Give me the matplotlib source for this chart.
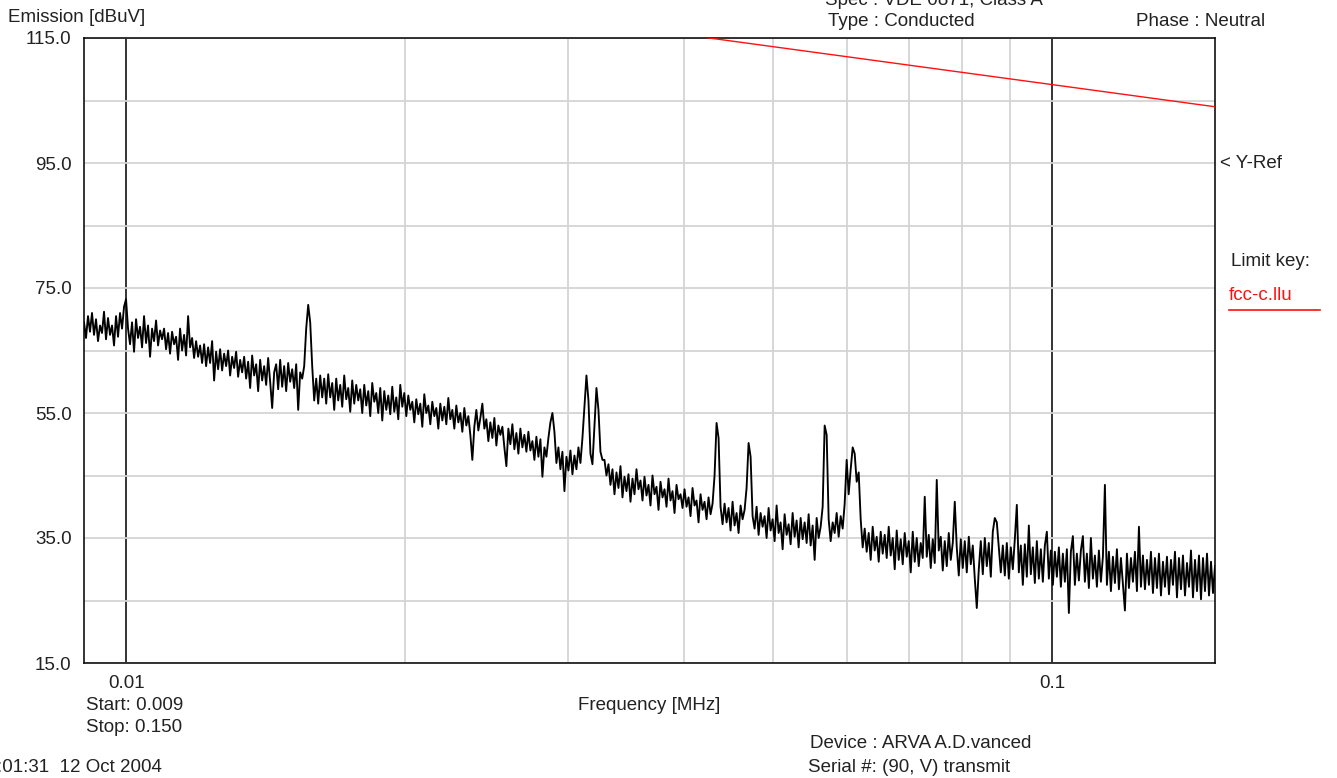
import numpy as np
import matplotlib
matplotlib.use("Agg")
from matplotlib import pyplot as plt
from matplotlib.ticker import FixedLocator, NullFormatter

plt.rcParams['font.family'] = ['Liberation Sans', 'DejaVu Sans']

# sweep settings (MHz)
sweep_start = 0.009
sweep_stop = 0.150

# measured emission, dBuV, one value per sweep point (log spaced)
emission = [
    69.5, 67.0, 70.5, 68.0, 71.0, 67.5, 70.0, 66.5, 69.0, 67.8, 71.2, 66.8, 70.2, 67.5, 69.0, 65.8, 70.5, 67.2, 71.0, 68.5,
    72.0, 73.2, 68.5, 66.0, 69.5, 64.8, 70.0, 67.0, 68.8, 65.5, 70.5, 66.2, 69.0, 64.0, 68.5, 66.5, 69.8, 65.8, 68.2, 66.8,
    68.5, 65.2, 67.8, 64.5, 68.0, 66.0, 67.2, 63.5, 68.5, 65.0, 67.5, 64.2, 70.5, 65.5, 67.0, 63.8, 66.5, 64.0, 65.8, 63.0,
    66.0, 62.5, 65.5, 63.0, 66.5, 60.2, 64.8, 62.0, 65.2, 61.8, 64.5, 62.5, 65.0, 61.0, 64.0, 62.2, 64.8, 60.8, 63.5, 61.5,
    64.0, 60.5, 63.2, 59.0, 64.2, 61.0, 62.8, 58.5, 63.5, 60.2, 62.5, 59.5, 63.8, 60.0, 55.8, 61.5, 62.8, 58.8, 63.5, 59.2,
    62.5, 58.5, 63.0, 60.0, 62.0, 59.0, 62.8, 55.5, 61.5, 60.5, 62.5, 68.5, 72.3, 69.5, 62.5, 57.0, 60.5, 56.5, 61.0, 57.5,
    60.5, 56.5, 61.2, 57.5, 59.8, 55.5, 60.5, 57.0, 59.5, 56.0, 61.0, 57.2, 59.0, 55.2, 60.2, 56.5, 59.5, 57.0, 58.8, 55.0,
    59.5, 56.2, 58.5, 54.5, 59.8, 56.8, 58.2, 55.0, 59.0, 53.8, 58.5, 55.5, 57.8, 54.8, 59.2, 55.2, 57.5, 54.0, 59.5, 56.0,
    58.2, 54.5, 57.8, 55.5, 56.8, 53.5, 57.2, 54.8, 56.5, 52.8, 58.0, 55.0, 56.2, 53.2, 56.8, 54.5, 55.8, 52.5, 56.5, 53.8,
    56.0, 53.2, 57.4, 54.0, 55.5, 52.5, 56.2, 53.5, 55.0, 52.0, 55.8, 53.0, 54.5, 51.5, 47.5, 52.8, 55.5, 52.2, 54.2, 56.5,
    52.5, 54.0, 50.5, 53.5, 51.0, 54.2, 49.8, 53.0, 51.5, 52.8, 49.5, 46.5, 52.5, 50.0, 53.2, 49.2, 51.8, 48.5, 52.5, 49.5,
    51.5, 48.8, 52.0, 49.0, 50.5, 47.5, 51.2, 48.0, 50.8, 44.8, 49.5, 48.0, 51.0, 53.5, 55.0, 52.0, 47.0, 49.5, 46.0, 48.8,
    42.5, 48.0, 45.8, 49.0, 45.2, 48.2, 46.0, 49.5, 47.0, 51.0, 56.0, 61.0, 57.0, 48.5, 46.8, 53.0, 59.0, 55.5, 48.8, 47.5,
    47.5, 45.0, 46.8, 43.5, 46.0, 42.0, 45.5, 43.0, 46.5, 41.5, 44.8, 42.5, 45.2, 40.8, 44.5, 42.0, 46.0, 42.8, 44.2, 41.0,
    44.8, 41.8, 43.5, 40.2, 45.0, 42.0, 43.2, 39.5, 44.0, 41.5, 42.8, 40.0, 44.5, 41.0, 42.5, 39.0, 43.5, 41.2, 42.0, 39.8,
    42.8, 40.0, 41.5, 38.5, 43.0, 40.2, 41.0, 37.5, 42.0, 39.5, 40.8, 38.0, 41.5, 38.8, 40.5, 45.0, 53.4, 51.0, 40.0, 37.2,
    40.5, 37.5, 39.8, 36.2, 40.8, 37.0, 39.0, 35.8, 40.2, 38.0, 39.5, 43.0, 50.2, 48.0, 38.5, 36.5, 40.0, 35.5, 39.0, 36.8,
    38.5, 35.0, 39.8, 36.2, 38.0, 34.5, 40.2, 35.8, 37.5, 33.2, 38.8, 35.5, 37.2, 34.0, 39.0, 35.2, 37.8, 33.5, 38.2, 34.8,
    37.5, 34.2, 38.8, 33.8, 37.0, 31.5, 38.2, 35.0, 36.8, 40.0, 53.0, 51.5, 38.0, 34.5, 37.5, 35.8, 39.0, 35.2, 38.5, 36.5,
    40.5, 47.5, 42.0, 46.0, 49.5, 48.5, 44.0, 45.5, 38.0, 33.5, 36.5, 32.8, 35.8, 31.5, 36.8, 33.0, 35.2, 31.2, 36.0, 32.5,
    35.5, 31.8, 36.8, 32.2, 35.0, 30.0, 36.2, 31.5, 34.8, 30.8, 35.8, 32.0, 34.5, 29.5, 36.0, 31.2, 35.0, 30.5, 34.2, 31.8,
    41.6, 32.0, 35.5, 30.2, 34.8, 31.0, 44.3, 33.0, 35.2, 29.8, 34.5, 30.5, 35.8, 31.5, 34.2, 40.8, 33.5, 29.0, 34.8, 30.2,
    34.5, 29.5, 35.2, 30.8, 33.8, 28.5, 23.8, 30.0, 34.5, 29.2, 35.0, 30.5, 34.2, 28.8, 36.0, 38.2, 37.5, 33.5, 29.5, 33.8,
    29.0, 34.2, 28.5, 33.5, 30.0, 34.8, 40.3, 29.5, 33.8, 27.5, 34.0, 28.8, 37.0, 29.2, 33.5, 27.8, 34.5, 28.5, 33.2, 28.0,
    33.8, 36.0, 28.5, 33.0, 27.5, 32.8, 28.8, 33.5, 27.2, 32.5, 28.0, 33.2, 23.0, 32.8, 35.3, 27.5, 32.5, 28.2, 33.0, 35.3,
    28.0, 32.5, 27.0, 35.0, 28.5, 32.2, 27.2, 33.0, 28.0, 32.0, 43.5, 27.5, 32.8, 26.5, 32.0, 27.8, 33.2, 26.8, 31.8, 27.5,
    23.4, 32.5, 27.0, 31.8, 28.0, 32.8, 26.5, 36.8, 27.2, 32.2, 26.8, 31.5, 27.5, 32.8, 26.2, 31.8, 27.0, 32.5, 25.8, 31.2,
    27.2, 32.0, 26.0, 31.5, 27.5, 32.8, 25.5, 31.8, 26.8, 32.2, 25.8, 31.0, 27.2, 33.0, 25.5, 31.5, 26.5, 32.2, 25.2, 31.8,
    26.5, 32.5, 25.8, 31.2, 26.2, 30.5,
]

# limit line fcc-c.llu
limit_freq = [0.009, 0.150]
limit_level = [128.6, 104.0]

y_ticks = [15, 25, 35, 45, 55, 65, 75, 85, 95, 105, 115]
y_labels = ['15.0', '', '35.0', '', '55.0', '', '75.0', '', '95.0', '', '115.0']
x_major = [0.01, 0.1]
x_labels = ['0.01', '0.1']
x_minor = [0.02, 0.03, 0.04, 0.05, 0.06, 0.07, 0.08, 0.09]

W, H = 1337, 778
fig = plt.figure(figsize=(W / 100, H / 100), dpi=100)
ax = fig.add_axes([84 / W, 1 - 663 / H, (1215 - 84) / W, (663 - 38) / H])

freq = np.geomspace(sweep_start, sweep_stop, len(emission))
ax.plot(freq, emission, color='black', lw=1.35, zorder=3)
ax.plot(limit_freq, limit_level, color='#ff1010', lw=1.0, zorder=4)

ax.set_xscale('log')
ax.set_xlim(sweep_start, sweep_stop)
ax.set_ylim(15, 115)

ax.set_yticks(y_ticks)
ax.set_yticklabels(y_labels)
ax.set_xticks(x_major)
ax.set_xticklabels(x_labels)
ax.xaxis.set_minor_locator(FixedLocator(x_minor))
ax.xaxis.set_minor_formatter(NullFormatter())
ax.yaxis.set_minor_locator(FixedLocator([]))
ax.tick_params(axis='both', which='both', length=0, labelsize=13.5, colors='#222222')
ax.tick_params(axis='y', pad=9)
ax.tick_params(axis='x', pad=9)

ax.grid(True, which='major', axis='y', color='#d4d4d4', lw=1.3, zorder=1)
ax.grid(True, which='minor', axis='x', color='#d4d4d4', lw=1.3, zorder=1)
ax.grid(True, which='major', axis='x', color='#111111', lw=1.2, zorder=2)
ax.set_axisbelow(True)
for s in ax.spines.values():
    s.set_linewidth(1.2)
    s.set_color('#111111')


def ftext(x, y, s, **kw):
    kw.setdefault('fontsize', 13.5)
    kw.setdefault('color', '#222222')
    kw.setdefault('va', 'center')
    fig.text(x / W, 1 - y / H, s, **kw)


ftext(8, 18, 'Emission [dBuV]')
ftext(825, 5, 'Spec : VDE 0871, Class A', va='baseline')
ftext(828, 21, 'Type : Conducted')
ftext(1136, 21, 'Phase : Neutral')
ftext(1220, 163, '< Y-Ref')
ftext(1231, 262, 'Limit key:')
ftext(1229, 296, 'fcc-c.llu', color='#ff1010')
fig.add_artist(plt.Line2D([1229 / W, 1320 / W], [1 - 310 / H, 1 - 310 / H],
                          color='#ff1010', lw=1.2))
ftext(86, 706, 'Start: 0.009')
ftext(86, 727, 'Stop: 0.150')
ftext(649, 706, 'Frequency [MHz]', ha='center')
ftext(-3, 767, ':01:31  12 Oct 2004')
ftext(810, 743, 'Device : ARVA A.D.vanced')
ftext(808, 767, 'Serial #: (90, V) transmit')

fig.savefig('out.png', dpi=100, facecolor='white')
